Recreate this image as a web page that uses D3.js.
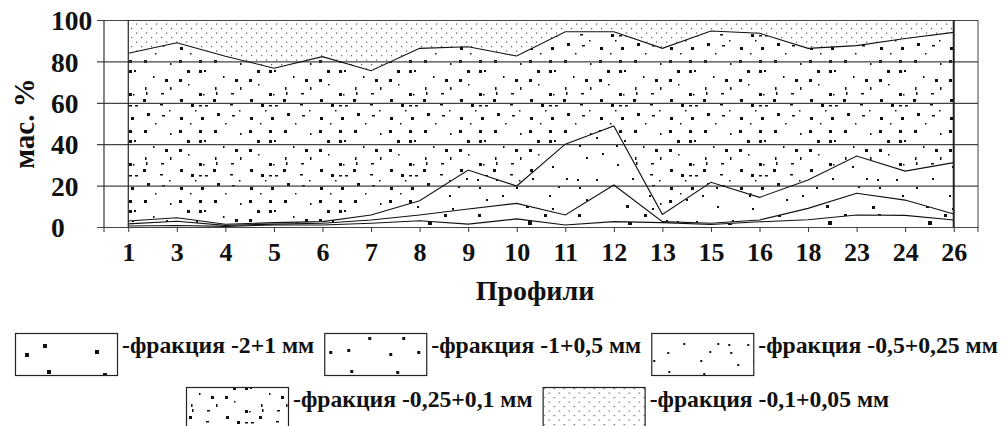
<!DOCTYPE html>
<html>
<head>
<meta charset="utf-8">
<script src="https://cdn.jsdelivr.net/npm/d3@7"></script>
<style>
  body { margin: 0; background: #fff; }
  text { font-family: "Liberation Serif", "Times New Roman", serif; font-weight: bold; fill: #111; }
</style>
</head>
<body>
<script>
// profiles on the x axis
var profiles = ["1", "3", "4", "5", "6", "7", "8", "9", "10", "11", "12", "13", "15", "16", "18", "23", "24", "26"]

// mass % of each fraction, bottom layer first
var frac1 = [0.5, 0.7, 0.3, 1.0, 1.0, 1.8, 3.0, 1.4, 3.9, 1.0, 2.6, 2.1, 1.2, 2.5, 3.5, 5.8, 5.6, 3.4]
var frac2 = [1.0, 2.1, 0.5, 0.4, 0.8, 1.6, 2.8, 7.3, 7.5, 4.8, 17.7, 0.5, 0.6, 0.9, 5.5, 10.5, 7.4, 2.9]
var frac3 = [1.4, 1.7, 0.5, 0.7, 0.8, 2.4, 6.9, 18.8, 8.4, 34.2, 28.5, 3.5, 19.8, 10.9, 13.7, 18.0, 14.0, 24.8]
var frac4 = [81.0, 84.5, 81.2, 74.6, 79.7, 69.7, 73.6, 59.6, 62.8, 54.3, 45.5, 80.2, 73.1, 79.3, 63.6, 53.3, 64.1, 62.9]
var frac5 = [16.1, 11.0, 17.5, 23.3, 17.7, 24.5, 13.7, 12.9, 17.4, 5.7, 5.7, 13.7, 5.3, 6.4, 13.7, 12.4, 8.9, 6.0]

var keys = ["f1", "f2", "f3", "f4", "f5"]
var names = ["-фракция -2+1 мм", "-фракция -1+0,5 мм", "-фракция -0,5+0,25 мм",
  "-фракция -0,25+0,1 мм", "-фракция -0,1+0,05 мм"]
var yTicks = [0, 20, 40, 60, 80, 100]

var rows = profiles.map(function (p, i) {
  return { profile: p, f1: frac1[i], f2: frac2[i], f3: frac3[i], f4: frac4[i], f5: frac5[i] }
})

var W = 1006, H = 426
var pL = 104, pR = 978, pT = 20, pB = 227

var svg = d3.select("body").append("svg")
  .attr("width", W).attr("height", H)

svg.append("rect").attr("width", W).attr("height", H).attr("fill", "#fff")

// fill textures, one tile per fraction: [x, y, w, h]
var tiles = {
  f1: { w: 100, h: 42, marks: [[10, 20, 4, 4], [28, 11, 4, 4], [80, 17, 4, 4], [32, 37, 4, 4], [88, 40, 4, 4]] },
  f2: { w: 100, h: 42, marks: [[5, 18, 3, 3], [23, 16, 3, 3], [44, 4, 3, 3], [65, 20, 3, 3], [78, 4, 3, 3],
    [93, 18, 3, 3], [26, 37, 3, 3], [72, 38, 3, 3]] },
  f3: { w: 100, h: 42, marks: [[2, 27, 2, 2], [16, 19, 2, 2], [32, 10, 2, 2], [49, 27, 2, 2], [58, 18, 2, 2],
    [66, 10, 2, 2], [77, 11, 2, 2], [79, 19, 2, 2], [86, 31, 2, 2], [96, 11, 2, 2], [17, 38, 2, 2], [52, 40, 2, 2]] },
  f4: { w: 70, h: 70, marks: [[47, 0, 3, 3], [59, 0, 3, 3], [64, 0, 2, 2], [25, 9, 3, 3], [39, 9, 3, 3],
    [5, 17, 1.5, 3], [30, 17, 1.5, 3], [6, 22, 1.5, 3], [21, 23, 3, 1.5], [59, 23, 3, 3], [63, 24, 1.5, 1.5],
    [3, 29, 3, 3], [40, 29, 3, 3], [20, 34, 3, 1.5], [51, 34, 3, 3], [59, 35, 3, 1.5], [65, 35, 3, 1.5],
    [7, 43, 3, 3], [22, 45, 3, 1.5], [40, 47, 3, 3], [61, 47, 3, 3], [15, 53, 1.5, 1.5], [50, 53, 1.5, 1.5],
    [4, 60, 3, 3], [39, 60, 3, 3], [59, 60, 3, 3], [29, 40, 1.5, 1.5], [48, 14, 1.5, 1.5], [13, 6, 1.5, 2],
    [30, 63, 1.5, 2], [55, 40, 1.5, 1.5]] },
  f5: { w: 10, h: 9, marks: [[1, 1, 1.2, 1.2], [6, 5.5, 1.2, 1.2]] }
}

var defs = svg.append("defs")
function makePattern(id, key, ox, oy) {
  var t = tiles[key]
  var p = defs.append("pattern").attr("id", id)
    .attr("patternUnits", "userSpaceOnUse")
    .attr("x", ox).attr("y", oy)
    .attr("width", t.w).attr("height", t.h)
  p.append("rect").attr("width", t.w).attr("height", t.h).attr("fill", "#fff")
  p.selectAll("rect.m").data(t.marks).enter().append("rect")
    .attr("class", "m")
    .attr("x", function (d) { return d[0] }).attr("y", function (d) { return d[1] })
    .attr("width", function (d) { return d[2] }).attr("height", function (d) { return d[3] })
    .attr("fill", key == "f5" ? "#555" : "#111")
}
keys.forEach(function (k) { makePattern("pat-" + k, k, 0, 0) })

var x = d3.scalePoint().domain(profiles).range([pL, pR]).padding(0.5)
var y = d3.scaleLinear().domain([0, 100]).range([pB, pT])

var stack = d3.stack().keys(keys)(rows)

var area = d3.area()
  .x(function (d) { return x(d.data.profile) })
  .y0(function (d) { return y(d[0]) })
  .y1(function (d) { return y(d[1]) })

var line = d3.line()
  .x(function (d) { return x(d.data.profile) })
  .y(function (d) { return y(d[1]) })

svg.selectAll("path.area").data(stack).enter().append("path")
  .attr("class", "area")
  .attr("d", area)
  .attr("fill", function (d) { return "url(#pat-" + d.key + ")" })

// gridlines + y tick marks
var yAxis = svg.append("g")
  .attr("transform", "translate(" + pL + ",0)")
  .call(d3.axisLeft(y).tickValues(yTicks).tickSize(-(pR - pL)).tickPadding(0))
yAxis.select(".domain").remove()
yAxis.selectAll("line").attr("x1", -7).attr("stroke", "#444").attr("stroke-width", 1.2)
yAxis.selectAll("text")
  .attr("text-anchor", "start").attr("x", 51 - pL).attr("dy", "0.35em")
  .style("font-size", "27.5px")

// boundary lines between layers
svg.selectAll("path.edge").data(stack.slice(0, 4)).enter().append("path")
  .attr("class", "edge")
  .attr("d", line)
  .attr("fill", "none").attr("stroke", "#111").attr("stroke-width", 1.1)

// area side edges
var x0 = x(profiles[0]), x1 = x(profiles[profiles.length - 1])
svg.append("line").attr("x1", x0).attr("x2", x0).attr("y1", y(0)).attr("y2", y(100))
  .attr("stroke", "#222").attr("stroke-width", 1.2)
svg.append("line").attr("x1", x1).attr("x2", x1).attr("y1", y(0)).attr("y2", y(100))
  .attr("stroke", "#222").attr("stroke-width", 2)

// plot frame
svg.append("line").attr("x1", pL).attr("x2", pL).attr("y1", pT).attr("y2", pB)
  .attr("stroke", "#333").attr("stroke-width", 1.2)
svg.append("line").attr("x1", pR).attr("x2", pR).attr("y1", pT).attr("y2", pB)
  .attr("stroke", "#444").attr("stroke-width", 1)

// x axis
var xAxis = svg.append("g")
  .attr("transform", "translate(0," + pB + ")")
  .call(d3.axisBottom(x).tickSize(5).tickPadding(11))
xAxis.select(".domain").remove()
xAxis.selectAll("line").attr("stroke", "#333")
xAxis.selectAll("text").style("font-size", "26px")
xAxis.selectAll("line.edge").data([pL, pR]).enter().append("line")
  .attr("class", "edge").attr("x1", function (d) { return d }).attr("x2", function (d) { return d })
  .attr("y1", 0).attr("y2", 5).attr("stroke", "#333")

// axis titles
svg.append("text")
  .attr("transform", "translate(34," + (pT + pB) / 2 + ") rotate(-90)")
  .attr("text-anchor", "middle")
  .style("font-size", "29px")
  .text("мас. %")

svg.append("text")
  .attr("x", 535).attr("y", 300)
  .attr("text-anchor", "middle")
  .style("font-size", "28px")
  .text("Профили")

// legend, two rows flowing left to right
var legendRows = [{ start: 15, top: 333, items: [0, 1, 2] }, { start: 186, top: 387, items: [3, 4] }]
var boxW = 102, boxH = 42
legendRows.forEach(function (r) {
  var cx = r.start
  r.items.forEach(function (i) {
    var k = keys[i]
    makePattern("leg-" + k, k, cx, r.top)
    svg.append("rect")
      .attr("x", cx + 0.5).attr("y", r.top + 0.5)
      .attr("width", boxW).attr("height", boxH)
      .attr("fill", "url(#leg-" + k + ")")
      .attr("stroke", "#222").attr("stroke-width", 1.2)
    var t = svg.append("text")
      .attr("x", cx + boxW + 5).attr("y", r.top + 20)
      .style("font-size", "23.7px")
      .text(names[i])
    cx += boxW + 5 + t.node().getComputedTextLength() + 10
  })
})
</script>
</body>
</html>
